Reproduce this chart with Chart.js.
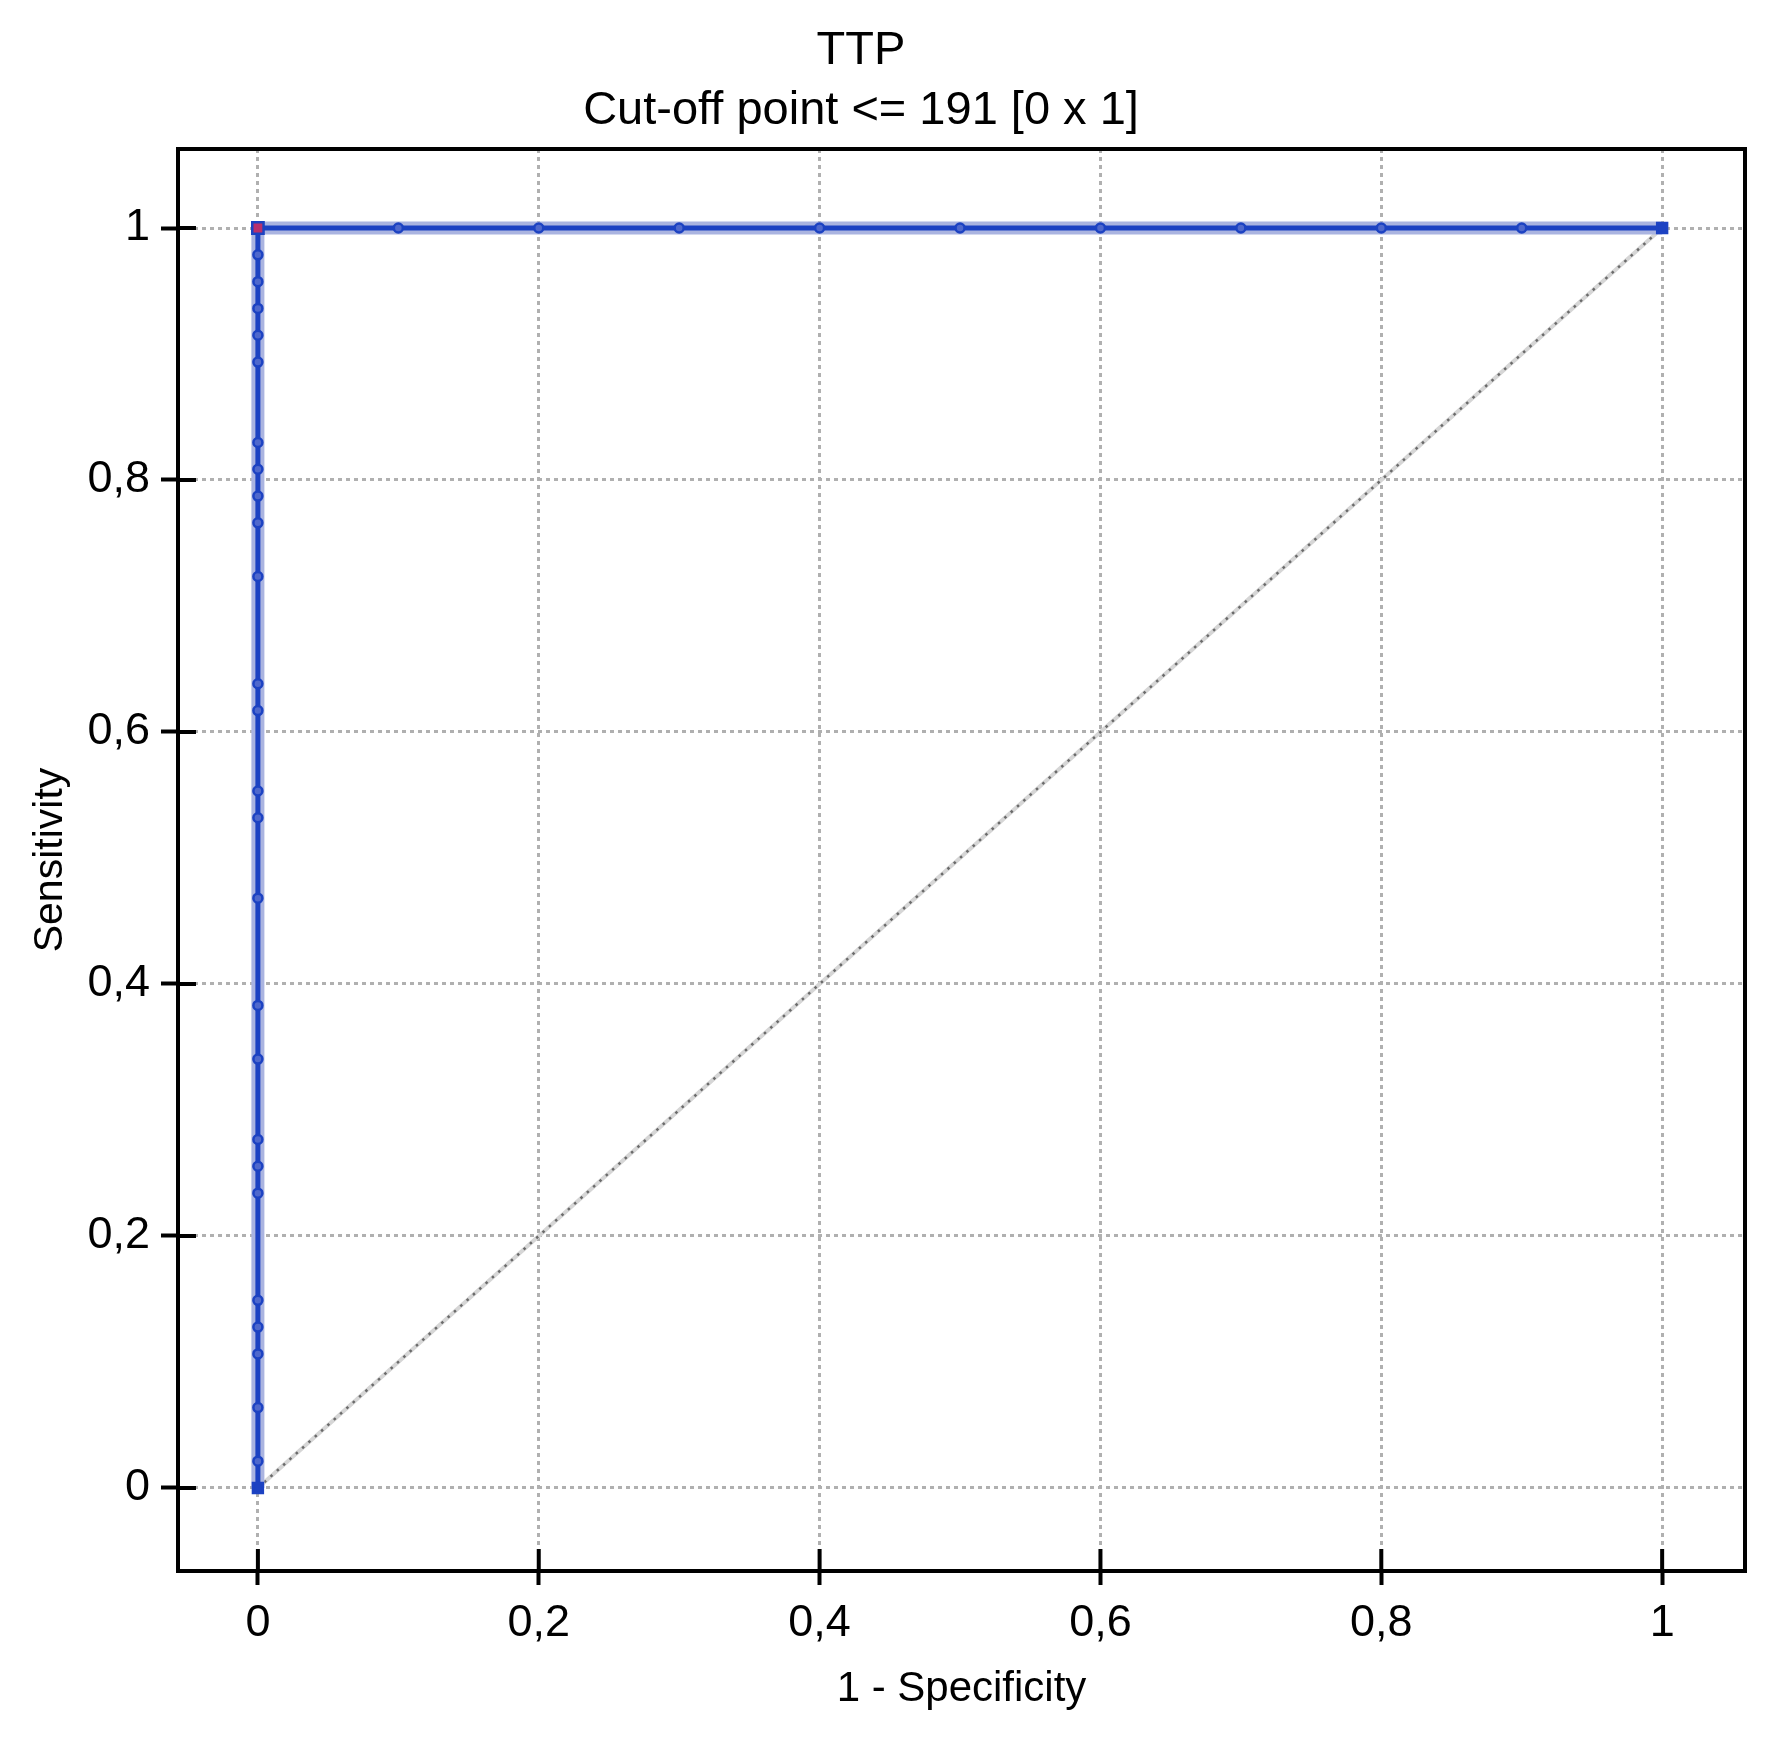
<!DOCTYPE html>
<html>
<head>
<meta charset="utf-8">
<title>TTP - ROC</title>
<script src="https://cdn.jsdelivr.net/npm/chart.js@4.4.0/dist/chart.umd.min.js"></script>
<style>
  html, body { margin: 0; padding: 0; background: #fff; }
  canvas { display: block; }
</style>
</head>
<body>
<canvas id="rocChart" width="1771" height="1750"></canvas>
<script>
// Title lines
const titleLines = ['TTP', 'Cut-off point <= 191 [0 x 1]'];

// ROC curve: 1 - specificity (x) and sensitivity (y)
const rocX = [0, 0, 0, 0, 0, 0, 0, 0, 0, 0, 0, 0, 0, 0, 0, 0, 0, 0, 0, 0, 0, 0, 0, 0, 0, 0, 0,
              0.1, 0.2, 0.3, 0.4, 0.5, 0.6, 0.7, 0.8, 0.9, 1];
const rocY = [0, 0.0213, 0.0638, 0.1064, 0.1277, 0.1489, 0.2340, 0.2553, 0.2766, 0.3404,
              0.3830, 0.4681, 0.5319, 0.5532, 0.6170, 0.6383, 0.7234, 0.7660, 0.7872, 0.8085,
              0.8298, 0.8936, 0.9149, 0.9362, 0.9574, 0.9787, 1,
              1, 1, 1, 1, 1, 1, 1, 1, 1, 1];

// Selected cut-off point
const cutX = [0];
const cutY = [1];

// Reference diagonal
const diagX = [0, 1];
const diagY = [0, 1];

// Axis ticks
const tickValues = [0, 0.2, 0.4, 0.6, 0.8, 1];
const tickLabels = ['0', '0,2', '0,4', '0,6', '0,8', '1'];

const FONT = '"Liberation Sans", Arial, sans-serif';
const BLUE = '#1c42c2';

function toPoints(xs, ys) {
    return xs.map((x, i) => ({ x: x, y: ys[i] }));
}

function isEnd(ctx) {
    return ctx.dataIndex === 0 || ctx.dataIndex === rocX.length - 1;
}

// Frame, inner tick marks and the two title lines
const framePlugin = {
    id: 'frame',
    afterDraw(chart) {
        const { ctx, chartArea: a, scales } = chart;
        ctx.save();
        ctx.strokeStyle = '#000';
        ctx.lineWidth = 4;
        ctx.beginPath();
        scales.x.ticks.forEach(t => {
            const px = scales.x.getPixelForValue(t.value);
            ctx.moveTo(px, a.bottom);
            ctx.lineTo(px, a.bottom - 22);
        });
        scales.y.ticks.forEach(t => {
            const py = scales.y.getPixelForValue(t.value);
            ctx.moveTo(a.left, py);
            ctx.lineTo(a.left + 18, py);
        });
        ctx.stroke();
        ctx.strokeRect(a.left, a.top, a.right - a.left, a.bottom - a.top);

        ctx.fillStyle = '#000';
        ctx.font = '47px ' + FONT;
        ctx.textAlign = 'center';
        ctx.textBaseline = 'alphabetic';
        ctx.fillText(titleLines[0], 861, 64);
        ctx.fillText(titleLines[1], 861, 124);
        ctx.restore();
    }
};

function axisOptions(min, max, tickLen, fitSize, horizontal) {
    return {
        type: 'linear',
        min: min,
        max: max,
        afterBuildTicks: s => { s.ticks = tickValues.map(v => ({ value: v })); },
        afterFit: s => {
            if (horizontal) s.height = fitSize; else s.width = fitSize;
        },
        grid: {
            color: '#b0b0b0',
            lineWidth: 3,
            drawTicks: true,
            tickLength: tickLen,
            tickColor: '#000',
            tickWidth: 4,
            tickBorderDash: []
        },
        border: { display: false, dash: [4, 4] },
        ticks: {
            color: '#000',
            font: { family: FONT, size: 45 },
            padding: horizontal ? 12 : 11,
            maxRotation: 0,
            autoSkip: false,
            callback: v => tickLabels[tickValues.indexOf(v)]
        }
    };
}

const xAxis = axisOptions(-0.0569, 1.059, 14, 179, true);
xAxis.title = {
    display: true,
    text: '1 - Specificity',
    color: '#000',
    font: { family: FONT, size: 42 },
    padding: { top: 0, bottom: 35 }
};

const yAxis = axisOptions(-0.0659, 1.0627, 17, 178, false);
yAxis.title = {
    display: true,
    text: 'Sensitivity',
    color: '#000',
    font: { family: FONT, size: 41 },
    padding: { top: 26, bottom: 0 }
};

const ctx = document.getElementById('rocChart').getContext('2d');
const rocChart = new Chart(ctx, {
    type: 'scatter',
    data: {
        datasets: [
            {
                // light under-stroke of the diagonal
                data: toPoints(diagX, diagY),
                showLine: true,
                borderColor: '#d6d6d6',
                borderWidth: 4,
                pointRadius: 0,
                order: 5
            },
            {
                data: toPoints(diagX, diagY),
                showLine: true,
                borderColor: '#6a6a6a',
                borderWidth: 2.5,
                borderDash: [2.5, 6],
                pointRadius: 0,
                order: 4
            },
            {
                // pale halo round the ROC curve
                data: toPoints(rocX, rocY),
                showLine: true,
                borderColor: '#aab4e0',
                borderWidth: 13,
                pointRadius: 0,
                order: 3
            },
            {
                data: toPoints(rocX, rocY),
                showLine: true,
                borderColor: BLUE,
                borderWidth: 5,
                pointStyle: c => isEnd(c) ? 'rect' : 'circle',
                pointRadius: c => isEnd(c) ? 7 : 4.5,
                pointBackgroundColor: c => isEnd(c) ? BLUE : '#4f68cc',
                pointBorderColor: BLUE,
                pointBorderWidth: 2.5,
                order: 2
            },
            {
                data: toPoints(cutX, cutY),
                pointStyle: 'rect',
                pointRadius: 8,
                pointBackgroundColor: '#b8306c',
                pointBorderColor: BLUE,
                pointBorderWidth: 2.5,
                order: 1
            }
        ]
    },
    options: {
        responsive: false,
        animation: false,
        devicePixelRatio: 1,
        layout: { padding: { top: 149, right: 26, bottom: 0, left: 0 } },
        plugins: {
            legend: { display: false },
            tooltip: { enabled: false }
        },
        scales: { x: xAxis, y: yAxis }
    },
    plugins: [framePlugin]
});
</script>
</body>
</html>
